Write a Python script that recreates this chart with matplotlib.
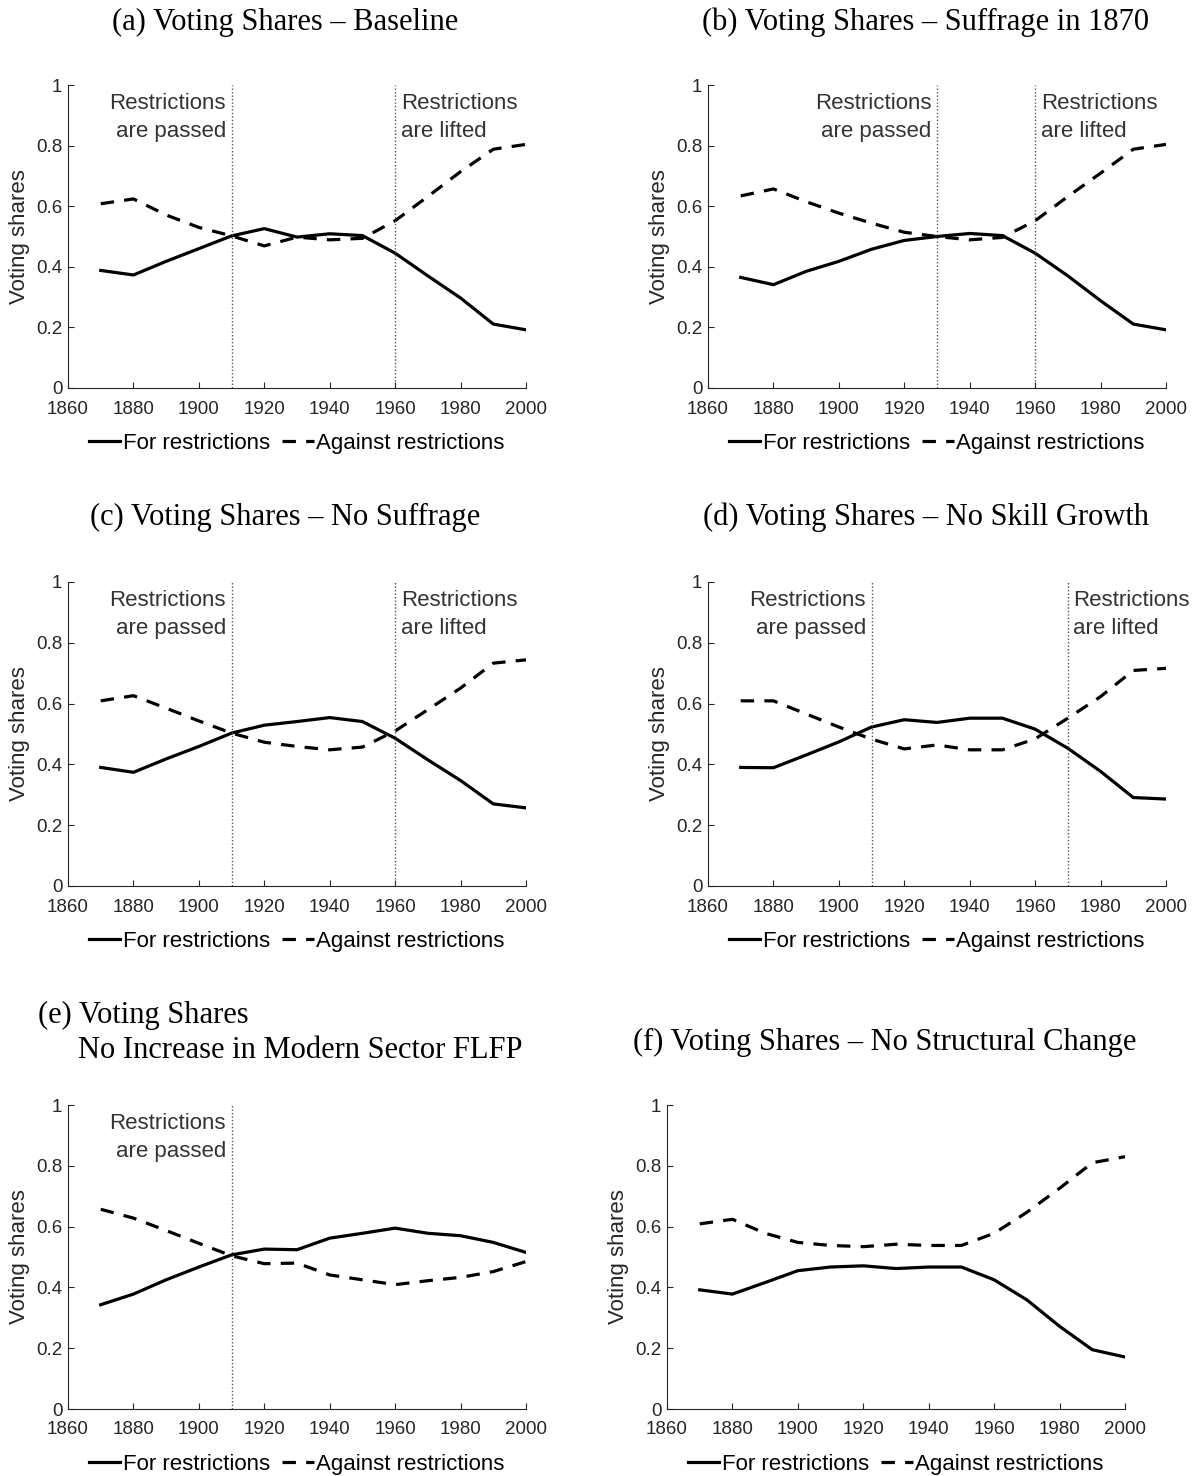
import matplotlib
matplotlib.use("Agg")
import matplotlib.pyplot as plt

W, H = 1196, 1476

years = [1870, 1880, 1890, 1900, 1910, 1920, 1930, 1940, 1950, 1960, 1970, 1980, 1990, 2000]

for_a = [0.388, 0.373, 0.418, 0.460, 0.502, 0.526, 0.498, 0.509, 0.503, 0.445, 0.370, 0.297, 0.211, 0.192]
against_a = [0.608, 0.624, 0.571, 0.530, 0.502, 0.469, 0.498, 0.489, 0.494, 0.552, 0.632, 0.714, 0.788, 0.804]

for_b = [0.365, 0.341, 0.385, 0.418, 0.458, 0.487, 0.500, 0.510, 0.503, 0.445, 0.370, 0.288, 0.211, 0.192]
against_b = [0.634, 0.657, 0.615, 0.577, 0.544, 0.514, 0.500, 0.489, 0.497, 0.552, 0.632, 0.709, 0.788, 0.804]

for_c = [0.390, 0.374, 0.418, 0.459, 0.503, 0.529, 0.541, 0.554, 0.541, 0.486, 0.415, 0.347, 0.270, 0.257]
against_c = [0.609, 0.626, 0.585, 0.543, 0.503, 0.473, 0.459, 0.448, 0.457, 0.510, 0.580, 0.651, 0.733, 0.744]

for_d = [0.390, 0.389, 0.431, 0.474, 0.523, 0.547, 0.538, 0.552, 0.552, 0.516, 0.453, 0.377, 0.291, 0.286]
against_d = [0.609, 0.609, 0.566, 0.523, 0.483, 0.451, 0.464, 0.448, 0.448, 0.484, 0.552, 0.623, 0.709, 0.716]

for_e = [0.343, 0.378, 0.425, 0.467, 0.507, 0.526, 0.524, 0.562, 0.578, 0.595, 0.578, 0.570, 0.548, 0.515]
against_e = [0.657, 0.628, 0.587, 0.545, 0.504, 0.478, 0.480, 0.441, 0.425, 0.409, 0.422, 0.433, 0.452, 0.485]

for_f = [0.392, 0.378, 0.416, 0.455, 0.467, 0.471, 0.462, 0.467, 0.467, 0.425, 0.359, 0.272, 0.195, 0.171]
against_f = [0.609, 0.624, 0.578, 0.548, 0.538, 0.534, 0.542, 0.538, 0.538, 0.578, 0.647, 0.726, 0.810, 0.830]

passed_years = [1910, 1930, 1910, 1910, 1910, None]
lifted_years = [1960, 1960, 1960, 1970, None, None]

titles = [
    "(a) Voting Shares \u2013 Baseline",
    "(b) Voting Shares \u2013 Suffrage in 1870",
    "(c) Voting Shares \u2013 No Suffrage",
    "(d) Voting Shares \u2013 No Skill Growth",
    None,
    "(f) Voting Shares \u2013 No Structural Change",
]
title_e_lines = ["(e) Voting Shares", "No Increase in Modern Sector FLFP"]

xticks = [1860, 1880, 1900, 1920, 1940, 1960, 1980, 2000]
yticks = [0, 0.2, 0.4, 0.6, 0.8, 1.0]
ytick_labels = ["0", "0.2", "0.4", "0.6", "0.8", "1"]

series = [(for_a, against_a), (for_b, against_b), (for_c, against_c),
          (for_d, against_d), (for_e, against_e), (for_f, against_f)]

# axes pixel boxes: (left, right, top(y=1), bottom(y=0))
boxes = [(68, 526, 85, 388), (708, 1166, 85, 388),
         (68, 526, 582, 886), (708, 1166, 582, 886),
         (68, 526, 1105, 1409), (667, 1125, 1105, 1409)]
title_pos = [(285, 22), (926, 22), (285, 517), (926, 517), None, (885, 1042)]

SANS = ["Liberation Sans", "DejaVu Sans"]
SERIF = ["Liberation Serif", "DejaVu Serif"]
plt.rcParams['font.family'] = SANS
TXT = "#262626"
LW = 2.3
DASH = (0, (4.2, 3.2))

fig = plt.figure(figsize=(W / 100, H / 100), dpi=100)


def fx(x):
    return x / W


def fy(y):
    return 1 - y / H


for i, (box, (f_vals, a_vals)) in enumerate(zip(boxes, series)):
    l, r, t, b = box
    ax = fig.add_axes([fx(l), fy(b), (r - l) / W, (b - t) / H])
    ax.plot(years, f_vals, color="black", lw=LW, label="For restrictions")
    ax.plot(years, a_vals, color="black", lw=LW, linestyle=DASH,
            label="Against restrictions")
    ax.set_xlim(1860, 2000)
    ax.set_ylim(0, 1)
    ax.set_xticks(xticks)
    ax.set_xticklabels([str(v) for v in xticks])
    ax.set_yticks(yticks)
    ax.set_yticklabels(ytick_labels)
    ax.tick_params(direction="in", length=4, width=0.8, colors=TXT,
                   labelsize=13.5, top=False, right=False)
    ax.tick_params(axis="x", pad=9)
    ax.tick_params(axis="y", pad=4)
    for s in ["top", "right"]:
        ax.spines[s].set_visible(False)
    for s in ["left", "bottom"]:
        ax.spines[s].set_color(TXT)
        ax.spines[s].set_linewidth(0.8)
    ax.set_ylabel("Voting shares", fontsize=16, color=TXT)
    ax.yaxis.set_label_coords(-0.083, 0.5)

    py = passed_years[i]
    if py is not None:
        ax.axvline(py, color="#555555", lw=1.0, linestyle=(0, (1, 1.5)))
        ax.annotate("Restrictions\nare passed", xy=(py, 0.975), xytext=(-4, 0),
                    textcoords="offset points", ha="right", va="top",
                    fontsize=16, color="#333333", linespacing=1.45,
                    multialignment="right")
    ly = lifted_years[i]
    if ly is not None:
        ax.axvline(ly, color="#555555", lw=1.0, linestyle=(0, (1, 1.5)))
        ax.annotate("Restrictions\nare lifted", xy=(ly, 0.975), xytext=(4, 0),
                    textcoords="offset points", ha="left", va="top",
                    fontsize=16, color="#333333", linespacing=1.45,
                    multialignment="left")

    ax.legend(loc="center", bbox_to_anchor=(0.5, -0.182), ncol=2,
              frameon=False, fontsize=16, handlelength=1.4,
              handletextpad=0.12, columnspacing=0.55, borderaxespad=0)

    tp = title_pos[i]
    if titles[i] is not None:
        fig.text(fx(tp[0]), fy(tp[1]), titles[i], ha="center", va="center",
                 fontsize=22, family=SERIF, color="black")

fig.text(fx(38), fy(1015), title_e_lines[0], ha="left", va="center",
         fontsize=22, family=SERIF, color="black")
fig.text(fx(78), fy(1050), title_e_lines[1], ha="left", va="center",
         fontsize=22, family=SERIF, color="black")

fig.savefig("out.png", dpi=100)
